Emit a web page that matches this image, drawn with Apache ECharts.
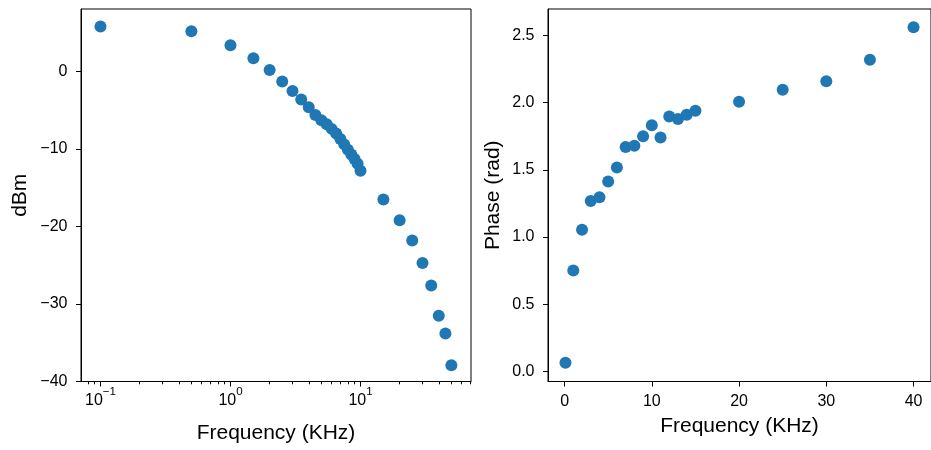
<!DOCTYPE html>
<html><head><meta charset="utf-8">
<script src="https://cdn.jsdelivr.net/npm/echarts@6/dist/echarts.min.js"></script>
<style>html,body{margin:0;padding:0;background:#fff}#c{width:931px;height:450px}</style>
</head><body><div id="c"></div>
<script>
// Left panel: magnitude vs frequency (log x)
const freqMag = [0.1, 0.5, 1, 1.5, 2, 2.5, 3, 3.5, 4, 4.5, 5, 5.5, 6, 6.5, 7, 7.5, 8, 8.5, 9, 9.5, 10, 15, 20, 25, 30, 35, 40, 45, 50];
const dBm = [5.8, 5.2, 3.4, 1.7, 0.2, -1.3, -2.5, -3.6, -4.6, -5.6, -6.3, -6.8, -7.4, -8.0, -8.7, -9.4, -10.1, -10.7, -11.3, -11.9, -12.8, -16.5, -19.2, -21.8, -24.7, -27.6, -31.5, -33.8, -37.9];
// Right panel: phase vs frequency (linear x)
const freqPhase = [0.1, 1, 2, 3, 4, 5, 6, 7, 8, 9, 10, 11, 12, 13, 14, 15, 20, 25, 30, 35, 40];
const phase = [0.065, 0.751, 1.054, 1.268, 1.297, 1.414, 1.518, 1.669, 1.679, 1.749, 1.831, 1.741, 1.897, 1.878, 1.910, 1.940, 2.007, 2.096, 2.158, 2.319, 2.560];
// Tick values
const logMajorTicks = [0.1, 1, 10];
const logMinorTicks = [0.08, 0.09, 0.2, 0.3, 0.4, 0.5, 0.6, 0.7, 0.8, 0.9, 2, 3, 4, 5, 6, 7, 8, 9, 20, 30, 40, 50, 60, 70];
const dbmTicks = [-40, -30, -20, -10, 0];
const phaseFreqTicks = [0, 10, 20, 30, 40];
const phaseTicks = [0, 0.5, 1.0, 1.5, 2.0, 2.5];

const FONT = '"Liberation Sans", Arial, sans-serif';
const chart = echarts.init(document.getElementById('c'), null, {renderer: 'canvas'});
const line = {show: true, onZero: false, lineStyle: {color: '#000', width: 1}};
const tickStyle = {color: '#000', width: 1};
const lbl = {color: '#000', fontSize: 16, fontFamily: FONT};
const nameStyle = {color: '#000', fontSize: 21, fontFamily: FONT};
const minus = s => String(s).replace('-', '\u2212');

chart.setOption({
  animation: false,
  backgroundColor: '#fff',
  grid: [
    {left: 81, top: 9, width: 390, height: 372.5, show: true, borderColor: '#000', borderWidth: 1, backgroundColor: 'transparent'},
    {left: 548, top: 9, width: 390, height: 372.5, show: true, borderColor: '#000', borderWidth: 1, backgroundColor: 'transparent'}
  ],
  xAxis: [
    {
      gridIndex: 0, type: 'log', logBase: 10, min: 0.0708, max: 70.8, position: 'bottom',
      axisLine: line, splitLine: {show: false},
      axisTick: {show: true, length: 5, lineStyle: tickStyle, customValues: logMajorTicks},
      axisLabel: Object.assign({}, lbl, {
        margin: 11.3, customValues: logMajorTicks,
        formatter: v => '{b|10}{s|' + minus(Math.round(Math.log10(v))) + '}',
        rich: {
          b: {fontSize: 16, fontFamily: FONT, color: '#000', lineHeight: 16},
          s: {fontSize: 11.5, fontFamily: FONT, color: '#000', lineHeight: 12, padding: [0, 0, 18, 0]}
        }
      }),
      name: 'Frequency (KHz)', nameLocation: 'middle', nameGap: 41, nameTextStyle: nameStyle
    },
    {
      gridIndex: 0, type: 'log', logBase: 10, min: 0.0708, max: 70.8, position: 'bottom',
      axisLine: {show: false, onZero: false}, splitLine: {show: false},
      axisTick: {show: true, length: 2.8, lineStyle: tickStyle, customValues: logMinorTicks},
      axisLabel: {show: false}
    },
    {
      gridIndex: 1, type: 'value', min: -1.9, max: 42, position: 'bottom',
      axisLine: line, splitLine: {show: false},
      axisTick: {show: true, length: 5, lineStyle: tickStyle, customValues: phaseFreqTicks},
      axisLabel: Object.assign({}, lbl, {margin: 12, customValues: phaseFreqTicks}),
      name: 'Frequency (KHz)', nameLocation: 'middle', nameGap: 34.5, nameTextStyle: nameStyle
    }
  ],
  yAxis: [
    {
      gridIndex: 0, type: 'value', min: -40, max: 8.07, position: 'left',
      axisLine: line, splitLine: {show: false},
      axisTick: {show: true, length: 5, lineStyle: tickStyle, customValues: dbmTicks},
      axisLabel: Object.assign({}, lbl, {margin: 13.5, customValues: dbmTicks, formatter: v => minus(v)}),
      name: 'dBm', nameLocation: 'middle', nameGap: 50, nameTextStyle: nameStyle
    },
    {
      gridIndex: 1, type: 'value', min: -0.074, max: 2.696, position: 'left',
      axisLine: line, splitLine: {show: false},
      axisTick: {show: true, length: 5, lineStyle: tickStyle, customValues: phaseTicks},
      axisLabel: Object.assign({}, lbl, {margin: 13.5, customValues: phaseTicks, formatter: v => Number(v).toFixed(1)}),
      name: 'Phase (rad)', nameLocation: 'middle', nameGap: 44.5, nameTextStyle: nameStyle
    }
  ],
  series: [
    {
      type: 'scatter', xAxisIndex: 0, yAxisIndex: 0, symbol: 'circle', symbolSize: 12,
      itemStyle: {color: '#1f77b4', opacity: 1},
      data: freqMag.map((f, i) => [f, dBm[i]])
    },
    {
      type: 'scatter', xAxisIndex: 2, yAxisIndex: 1, symbol: 'circle', symbolSize: 12,
      itemStyle: {color: '#1f77b4', opacity: 1},
      data: freqPhase.map((f, i) => [f, phase[i]])
    }
  ]
});
</script></body></html>
